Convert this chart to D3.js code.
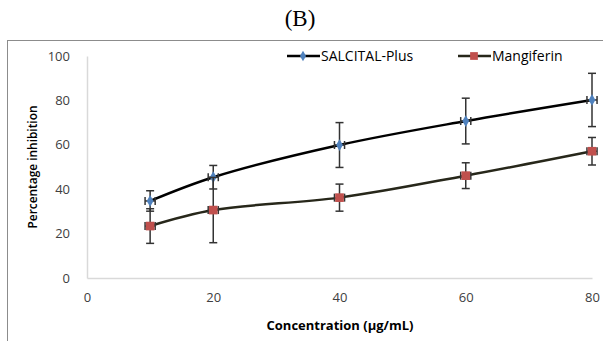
<html>
<head></head>
<body style="margin:0;background:#fff">
<svg id="chart" width="603" height="341"></svg>
<script src="https://d3js.org/d3.v7.min.js"></script>
<script>
    // data
    let concentrations = [10, 20, 40, 60, 80]
    let salcital = [34.7, 45.4, 59.9, 70.7, 80.2]
    let salcitalErr = [4.6, 5.3, 10.1, 10.3, 12]
    let mangiferin = [23.4, 30.6, 36.2, 46.1, 57.1]
    let mangiferinErr = [7.8, 14.7, 6.1, 5.8, 6.2]
    let xErr = 0.8
    let xTicks = [0, 20, 40, 60, 80]
    let yTicks = [0, 20, 40, 60, 80, 100]

    let svg = d3.select("#chart")

    // outer frame
    svg.append("rect")
        .attr("x", 7.5).attr("y", 40.5)
        .attr("width", 610).attr("height", 320)
        .attr("fill", "none").attr("stroke", "#8c8c8c")

    svg.append("text")
        .attr("x", 300).attr("y", 26)
        .attr("text-anchor", "middle")
        .style("font-family", "Liberation Serif, serif")
        .style("font-size", "23px")
        .text("(B)")

    let x = d3.scaleLinear().domain([0, 80]).range([87, 592])
    let y = d3.scaleLinear().domain([0, 100]).range([278, 56])

    // axes
    let xAxis = d3.axisBottom(x).tickValues(xTicks).tickSize(0).tickPadding(15)
    let gx = svg.append("g").attr("transform", "translate(0,278)").call(xAxis)
    let yAxis = d3.axisLeft(y).tickValues(yTicks).tickSize(0).tickPadding(17)
    let gy = svg.append("g").attr("transform", "translate(87,0)").call(yAxis)
    ;[gx, gy].forEach(g => {
        g.select(".domain").attr("stroke", "#d9d9d9").attr("stroke-width", 1.5)
        g.selectAll("text")
            .attr("fill", "#404040")
            .style("font-family", "Open Sans, sans-serif")
            .style("font-size", "13px")
    })

    svg.append("text")
        .attr("transform", "translate(37,167) rotate(-90)")
        .attr("text-anchor", "middle")
        .attr("fill", "#000")
        .style("font-family", "Open Sans, sans-serif")
        .style("font-size", "13px")
        .style("font-weight", "600")
        .attr("textLength", 123)
        .attr("lengthAdjust", "spacingAndGlyphs")
        .text("Percentage inhibition")

    svg.append("text")
        .attr("x", 340).attr("y", 330)
        .attr("text-anchor", "middle")
        .style("font-family", "Open Sans, sans-serif")
        .style("font-weight", "bold")
        .style("font-size", "13px")
        .text("Concentration (µg/mL)")

    let series = [
        { name: "SALCITAL-Plus", values: salcital, err: salcitalErr, line: "#000", color: "#4f81bd", shape: d3.symbolDiamond, size: 40 },
        { name: "Mangiferin", values: mangiferin, err: mangiferinErr, line: "#27271a", color: "#c0504d", shape: d3.symbolSquare, size: 75 }
    ]

    let line = d3.line()
        .x((d, i) => x(concentrations[i]))
        .y(d => y(d))
        .curve(d3.curveCatmullRom.alpha(0.5))

    series.forEach(s => {
        svg.append("path")
            .datum(s.values)
            .attr("d", line)
            .attr("fill", "none")
            .attr("stroke", s.line)
            .attr("stroke-width", 2.5)

        let pts = s.values.map((v, i) => ({ cx: concentrations[i], v: v, e: s.err[i] }))
        let eg = svg.append("g").attr("stroke", "#333").attr("stroke-width", 1.5)
        pts.forEach(p => {
            let px = x(p.cx), py = y(p.v)
            let top = y(p.v + p.e), bot = y(p.v - p.e)
            eg.append("line").attr("x1", px).attr("x2", px).attr("y1", top).attr("y2", bot)
            eg.append("line").attr("x1", px - 4).attr("x2", px + 4).attr("y1", top).attr("y2", top)
            eg.append("line").attr("x1", px - 4).attr("x2", px + 4).attr("y1", bot).attr("y2", bot)
            let l = x(p.cx - xErr), r = x(p.cx + xErr)
            eg.append("line").attr("x1", l).attr("x2", r).attr("y1", py).attr("y2", py)
            eg.append("line").attr("x1", l).attr("x2", l).attr("y1", py - 4).attr("y2", py + 4)
            eg.append("line").attr("x1", r).attr("x2", r).attr("y1", py - 4).attr("y2", py + 4)
        })

        svg.append("g").selectAll("path")
            .data(pts)
            .join("path")
            .attr("transform", d => `translate(${x(d.cx)},${y(d.v)})`)
            .attr("d", d3.symbol().type(s.shape).size(s.size))
            .attr("fill", s.color)
    })

    // legend
    let legendX = [287, 458]
    series.forEach((s, i) => {
        let g = svg.append("g").attr("transform", `translate(${legendX[i]},56)`)
        g.append("line").attr("x1", 0).attr("x2", 33).attr("y1", 0).attr("y2", 0)
            .attr("stroke", s.line).attr("stroke-width", 2.5)
        g.append("path").attr("transform", "translate(16,0)")
            .attr("d", d3.symbol().type(s.shape).size(s.size * 0.8))
            .attr("fill", s.color)
        g.append("text").attr("x", 34).attr("y", 5)
            .style("font-family", "Open Sans, sans-serif")
            .style("font-size", "14px")
            .attr("fill", "#000")
            .text(s.name)
    })
</script>
</body>
</html>
